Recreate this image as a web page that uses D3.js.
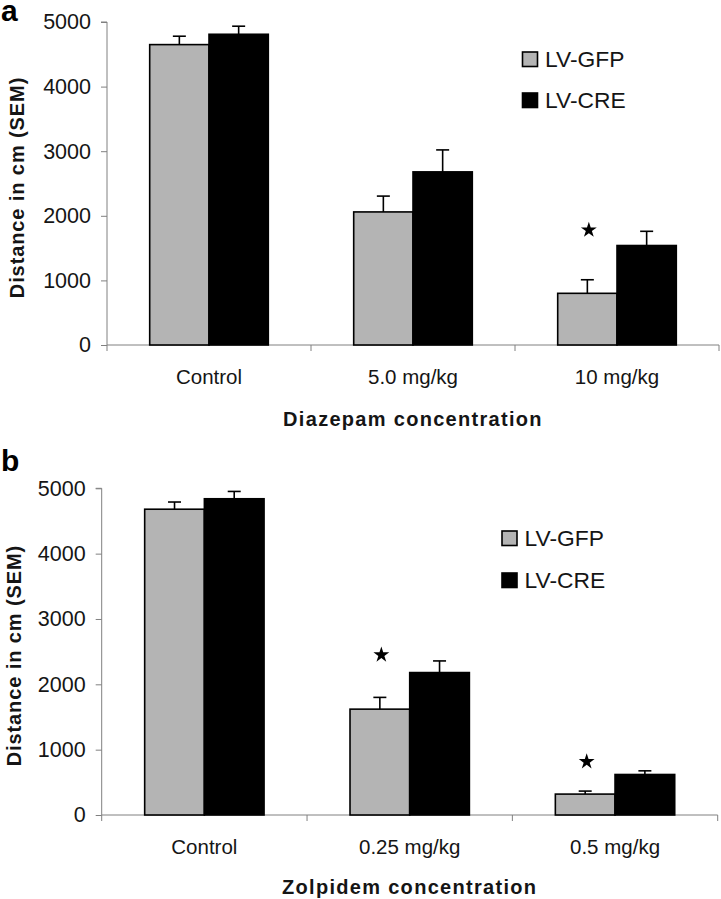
<!DOCTYPE html>
<html>
<head>
<meta charset="utf-8">
<script src="https://cdn.jsdelivr.net/npm/d3@7"></script>
<style>
  html, body { margin: 0; padding: 0; background: #fff; }
  svg { display: block; font-family: "Liberation Sans", Arial, sans-serif; }
</style>
</head>
<body>
<svg id="chart" width="721" height="899"></svg>
<script>
// ---------- data ----------
const seriesNames = ["LV-GFP", "LV-CRE"];
const yTicks = [0, 1000, 2000, 3000, 4000, 5000];

const categoriesA = ["Control", "5.0 mg/kg", "10 mg/kg"];
const gfpA = [4650, 2060, 800];
const gfpSemA = [130, 245, 210];
const creA = [4810, 2680, 1540];
const creSemA = [125, 340, 220];
const starsA = [null, null, 1780];          // star above LV-GFP bar (value position)

const categoriesB = ["Control", "0.25 mg/kg", "0.5 mg/kg"];
const gfpB = [4680, 1620, 320];
const gfpSemB = [110, 180, 46];
const creB = [4840, 2180, 620];
const creSemB = [112, 178, 56];
const starsB = [null, 2450, 816];

const xTitleA = "Diazepam concentration";
const xTitleB = "Zolpidem concentration";
const yTitle = "Distance in cm (SEM)";

// ---------- drawing ----------
const svg = d3.select("#chart");
const colors = ["#b4b4b4", "#000000"];
const textColor = "#151515";

function panel(cfg) {
  const g = svg.append("g");
  const x0 = d3.scaleBand().domain(cfg.categories).range([cfg.left, cfg.right]).padding(0);
  const x1 = d3.scaleBand().domain(seriesNames).range([0, x0.bandwidth()]).paddingInner(0).paddingOuter(0.72);
  const y = d3.scaleLinear().domain([0, 5000]).range([cfg.bottom, cfg.top]);

  const vals = [cfg.gfp, cfg.cre];
  const sems = [cfg.gfpSem, cfg.creSem];

  // y axis
  const yAxis = g.append("g").attr("transform", `translate(${cfg.left},0)`)
    .call(d3.axisLeft(y).tickValues(yTicks).tickFormat(d3.format("d")).tickSize(6).tickPadding(10));
  yAxis.select(".domain").attr("stroke", "#808080").attr("d", `M-6,${cfg.top}H0V${cfg.bottom}`);
  yAxis.selectAll(".tick line").attr("stroke", "#808080");
  yAxis.selectAll(".tick text").attr("font-size", 21.5).attr("fill", textColor)
    .attr("font-family", "Liberation Sans, Arial, sans-serif");

  // x axis
  const xAxis = g.append("g").attr("transform", `translate(0,${cfg.bottom})`)
    .call(d3.axisBottom(x0).tickSize(0).tickPadding(24));
  xAxis.select(".domain").attr("stroke", "#808080").attr("d", `M${cfg.left},0H${cfg.right}`);
  xAxis.selectAll(".tick text").attr("font-size", 20.5).attr("fill", textColor)
    .attr("font-family", "Liberation Sans, Arial, sans-serif");
  // category boundary ticks
  const bounds = cfg.categories.map(c => x0(c)).concat([x0(cfg.categories[cfg.categories.length - 1]) + x0.bandwidth()]);
  xAxis.selectAll("line.bound").data(bounds).join("line").attr("class", "bound")
    .attr("x1", d => d).attr("x2", d => d).attr("y1", 0).attr("y2", 6)
    .attr("stroke", "#808080");

  // bars
  const groups = g.selectAll("g.grp").data(cfg.categories).join("g").attr("class", "grp")
    .attr("transform", d => `translate(${x0(d)},0)`);

  seriesNames.forEach((s, si) => {
    groups.append("rect")
      .attr("x", (d, i) => x1(s))
      .attr("width", x1.bandwidth())
      .attr("y", (d, i) => y(vals[si][i]))
      .attr("height", (d, i) => y(0) - y(vals[si][i]))
      .attr("fill", colors[si])
      .attr("stroke", "#000")
      .attr("stroke-width", 1.6);
    // error bars (upper only)
    groups.append("line")
      .attr("x1", x1(s) + x1.bandwidth() / 2).attr("x2", x1(s) + x1.bandwidth() / 2)
      .attr("y1", (d, i) => y(vals[si][i]))
      .attr("y2", (d, i) => y(vals[si][i] + sems[si][i]))
      .attr("stroke", "#000").attr("stroke-width", 1.6);
    groups.append("line")
      .attr("x1", x1(s) + x1.bandwidth() / 2 - 6.5).attr("x2", x1(s) + x1.bandwidth() / 2 + 6.5)
      .attr("y1", (d, i) => y(vals[si][i] + sems[si][i]))
      .attr("y2", (d, i) => y(vals[si][i] + sems[si][i]))
      .attr("stroke", "#000").attr("stroke-width", 1.6);
  });

  // stars
  const star = d3.symbol().type(d3.symbolStar).size(78);
  cfg.categories.forEach((c, i) => {
    if (cfg.stars[i] != null) {
      g.append("path").attr("d", star())
        .attr("transform", `translate(${x0(c) + x1("LV-GFP") + x1.bandwidth() / 2 + 1.5},${y(cfg.stars[i])})`)
        .attr("fill", "#000");
    }
  });

  // legend
  const leg = g.append("g").attr("transform", `translate(${cfg.legX},${cfg.legY})`);
  seriesNames.forEach((s, si) => {
    const row = leg.append("g").attr("transform", `translate(0,${si * cfg.legGap})`);
    row.append("rect").attr("x", 0).attr("y", -15).attr("width", 15).attr("height", 14.5)
      .attr("fill", colors[si]).attr("stroke", "#000").attr("stroke-width", 1.6);
    row.append("text").attr("x", 22.5).attr("y", 0).attr("font-size", 22.8).attr("fill", textColor)
      .text(s);
  });

  // x title
  g.append("text").attr("x", (cfg.left + cfg.right) / 2).attr("y", cfg.xTitleY)
    .attr("text-anchor", "middle").attr("font-size", 20).attr("font-weight", "bold")
    .attr("letter-spacing", 1.3).attr("fill", textColor).text(cfg.xTitle);

  // y title
  g.append("text").attr("transform", `translate(${cfg.yTitleX},${(cfg.top + cfg.bottom) / 2 + 4}) rotate(-90)`)
    .attr("text-anchor", "middle").attr("font-size", 20).attr("font-weight", "bold")
    .attr("letter-spacing", 0.9).attr("fill", textColor).text(yTitle);

  // panel letter
  g.append("text").attr("x", 1).attr("y", cfg.letterY).attr("font-size", 30).attr("font-weight", "bold")
    .attr("fill", "#000").text(cfg.letter);
}

panel({
  categories: categoriesA, gfp: gfpA, gfpSem: gfpSemA, cre: creA, creSem: creSemA, stars: starsA,
  left: 107, right: 719, top: 22, bottom: 345,
  legX: 522.5, legY: 67, legGap: 41,
  xTitle: xTitleA, xTitleY: 426, yTitleX: 24, letter: "a", letterY: 21
});

panel({
  categories: categoriesB, gfp: gfpB, gfpSem: gfpSemB, cre: creB, creSem: creSemB, stars: starsB,
  left: 101.7, right: 717.7, top: 488.3, bottom: 815,
  legX: 502, legY: 546, legGap: 42,
  xTitle: xTitleB, xTitleY: 894, yTitleX: 21, letter: "b", letterY: 471
});
</script>
</body>
</html>
